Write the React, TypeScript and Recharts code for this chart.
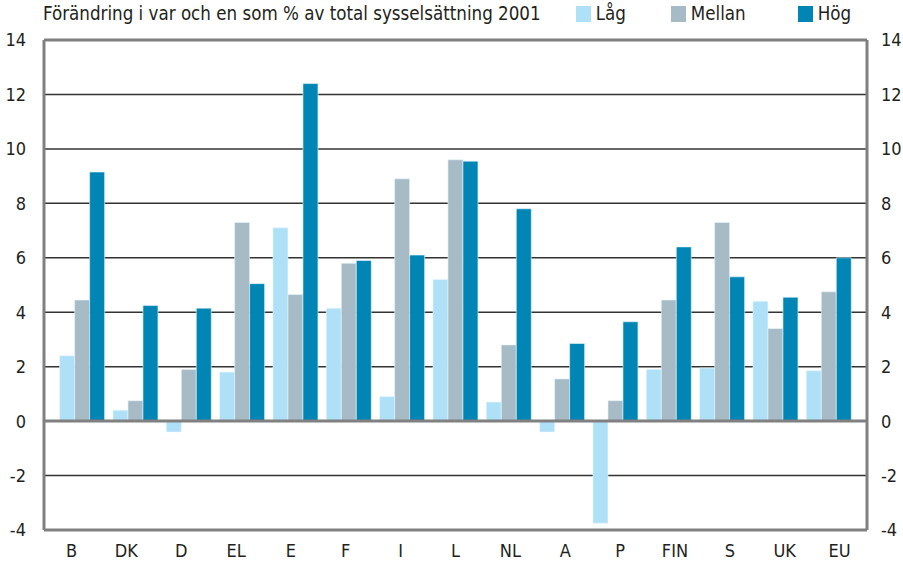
import React from "react";
import {
  BarChart,
  Bar,
  XAxis,
  YAxis,
  CartesianGrid,
  ReferenceLine,
} from "recharts";

const countries = ["B", "DK", "D", "EL", "E", "F", "I", "L", "NL", "A", "P", "FIN", "S", "UK", "EU"];
const lag = [2.4, 0.4, -0.4, 1.8, 7.1, 4.15, 0.9, 5.2, 0.7, -0.4, -3.75, 1.9, 1.95, 4.4, 1.85];
const mellan = [4.45, 0.75, 1.9, 7.3, 4.65, 5.8, 8.9, 9.6, 2.8, 1.55, 0.75, 4.45, 7.3, 3.4, 4.75];
const hog = [9.15, 4.25, 4.15, 5.05, 12.4, 5.9, 6.1, 9.55, 7.8, 2.85, 3.65, 6.4, 5.3, 4.55, 6.0];
const yTicks = [-4, -2, 0, 2, 4, 6, 8, 10, 12, 14];

const title = "Förändring i var och en som % av total sysselsättning 2001";
// both y axes share the same domain; the middle series sits on the right one so it gets ticks
const series = [
  { key: "lag", name: "Låg", color: "#aee0f8", axis: "left" },
  { key: "mellan", name: "Mellan", color: "#a7bbc6", axis: "right" },
  { key: "hog", name: "Hög", color: "#0085b5", axis: "left" },
];
const legendGaps = [35, 45, 52];

const data = countries.map((c, i) => ({
  country: c,
  lag: lag[i],
  mellan: mellan[i],
  hog: hog[i],
}));

const font = "'DejaVu Sans Condensed', 'Liberation Sans Narrow', Arial, sans-serif";
const tick = { fontSize: 18, fill: "#231f20", fontFamily: font };

function Header() {
  return (
    <div
      style={{
        position: "absolute",
        top: 3,
        left: 43,
        display: "flex",
        alignItems: "center",
        fontFamily: font,
        fontSize: 18.6,
        color: "#231f20",
        whiteSpace: "nowrap",
      }}
    >
      <span>{title}</span>
      {series.map((s, i) => (
        <span key={s.key} style={{ display: "flex", alignItems: "center", marginLeft: legendGaps[i] }}>
          <span style={{ width: 15, height: 16, background: s.color, display: "inline-block", marginRight: 5 }} />
          {s.name}
        </span>
      ))}
    </div>
  );
}

export default function App() {
  return (
    <div style={{ position: "absolute", left: 0, top: 0, width: 903, height: 564, background: "#fff" }}>
      <BarChart
        width={903}
        height={564}
        data={data}
        margin={{ top: 40, right: 0, left: 0, bottom: 0 }}
        barCategoryGap="6.8%"
        barGap={0}
      >
        <CartesianGrid yAxisId="left" vertical={false} stroke="#333" strokeWidth={1.5} />
        <XAxis
          dataKey="country"
          tickLine={false}
          axisLine={{ stroke: "#808080", strokeWidth: 3 }}
          tick={tick}
          height={34}
          tickMargin={8}
          interval={0}
        />
        <XAxis xAxisId="bars" dataKey="country" hide padding={{ left: 12, right: 11 }} />
        <YAxis
          yAxisId="left"
          domain={[-4, 14]}
          ticks={yTicks}
          tickLine={false}
          axisLine={{ stroke: "#808080", strokeWidth: 3 }}
          tick={tick}
          width={44}
          tickMargin={12}
        />
        <YAxis
          yAxisId="right"
          orientation="right"
          domain={[-4, 14]}
          ticks={yTicks}
          tickLine={false}
          axisLine={{ stroke: "#808080", strokeWidth: 3 }}
          tick={tick}
          width={36}
          tickMargin={8}
        />
        <ReferenceLine yAxisId="left" y={14} stroke="#808080" strokeWidth={3} />
        <ReferenceLine yAxisId="left" y={0} stroke="#808080" strokeWidth={3} />
        {series.map((s) => (
          <Bar
            key={s.key}
            xAxisId="bars"
            yAxisId={s.axis}
            dataKey={s.key}
            name={s.name}
            fill={s.color}
            stroke="#e8f6fc"
            strokeWidth={0.6}
            isAnimationActive={false}
          />
        ))}
      </BarChart>
      <Header />
    </div>
  );
}
